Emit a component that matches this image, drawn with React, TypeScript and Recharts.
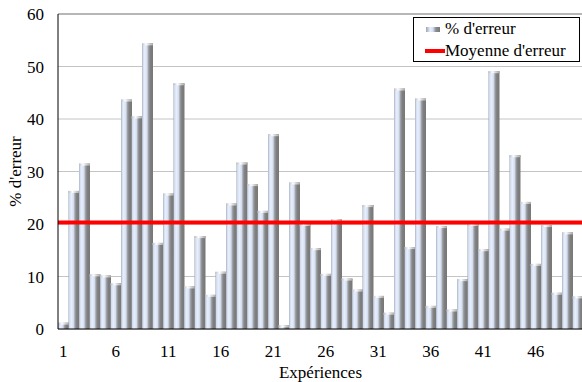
import React from 'react';
import {
  BarChart,
  Bar,
  XAxis,
  YAxis,
  CartesianGrid,
  ReferenceLine,
  Legend,
} from 'recharts';

// error rate (%) for each experiment
const errorRates = [
  1.2, 26.3, 31.5, 10.4, 10.2, 8.7, 43.7, 40.5, 54.4, 16.4,
  25.8, 46.8, 8.1, 17.7, 6.5, 10.9, 23.9, 31.7, 27.6, 22.5,
  37.1, 0.7, 27.9, 20.0, 15.4, 10.5, 20.9, 9.6, 7.5, 23.6,
  6.3, 3.1, 45.8, 15.6, 43.9, 4.4, 19.6, 3.7, 9.5, 20.0,
  15.2, 49.1, 19.1, 33.1, 24.2, 12.4, 19.8, 6.9, 18.4, 6.2,
];

const experiments = errorRates.map((_, i) => String(i + 1));

const meanError = 20.3;

const yTicks = [0, 10, 20, 30, 40, 50, 60];

const data = experiments.map((exp, i) => ({ exp, erreur: errorRates[i] }));

const FONT = "'Liberation Serif', 'Times New Roman', serif";
const FS = 17;

// cylinder-looking bar: light blue highlight on the left, grey on the right
const CylinderBar = (props: any) => {
  const { x, y, width, height } = props;
  if (!height || height <= 0) return null;
  return (
    <g>
      <rect x={x} y={y} width={width} height={height} fill="url(#barGrad)" />
      <rect x={x} y={y} width={width} height={Math.min(2, height)} fill="url(#capGrad)" />
    </g>
  );
};

const YTitle = ({ viewBox }: any) => {
  const cx = viewBox.x + 15;
  const cy = viewBox.y + viewBox.height / 2;
  return (
    <text
      x={cx}
      y={cy}
      transform={`rotate(-90 ${cx} ${cy})`}
      textAnchor="middle"
      dominantBaseline="central"
      style={{ fontFamily: FONT }}
      fontSize={FS}
      fill="#000"
    >
      % d'erreur
    </text>
  );
};

const XTitle = ({ viewBox }: any) => (
  <text
    x={viewBox.x + viewBox.width / 2}
    y={viewBox.y + 43}
    textAnchor="middle"
    dominantBaseline="central"
    style={{ fontFamily: FONT }}
    fontSize={FS}
    fill="#000"
  >
    Expériences
  </text>
);

const LegendBox = () => (
  <div
    style={{
      boxSizing: 'border-box',
      width: 167,
      height: 45,
      border: '1px solid #000',
      background: '#fff',
      fontFamily: FONT,
      fontSize: FS,
      color: '#000',
      lineHeight: '22px',
      paddingLeft: 11,
    }}
  >
    <div style={{ display: 'flex', alignItems: 'center', height: 22 }}>
      <span
        style={{
          display: 'inline-block',
          width: 14,
          height: 5,
          marginLeft: 1,
          marginRight: 5,
          background:
            'linear-gradient(to right, #9ea4ae 0%, #e8effc 30%, #d6e0f2 50%, #8a8c90 70%, #7a7a7a 100%)',
        }}
      />
      <span>% d'erreur</span>
    </div>
    <div style={{ display: 'flex', alignItems: 'center', height: 22 }}>
      <span
        style={{
          display: 'inline-block',
          width: 20,
          height: 4,
          background: '#ff0000',
        }}
      />
      <span>Moyenne d'erreur</span>
    </div>
  </div>
);

const tickStyle = { fontFamily: FONT, fontSize: FS, fill: '#000' };

const App: React.FC = () => {
  return (
    <div
      style={{
        position: 'absolute',
        left: 0,
        top: 0,
        width: 582,
        height: 382,
        overflow: 'hidden',
        background: '#fff',
        fontFamily: FONT,
      }}
    >
      <BarChart
        width={590}
        height={382}
        data={data}
        margin={{ top: 14, right: 7, left: 0, bottom: 0 }}
        barCategoryGap={0}
        style={{ fontFamily: FONT }}
      >
        <defs>
          <linearGradient id="barGrad" x1="0" y1="0" x2="1" y2="0">
            <stop offset="0%" stopColor="#9ea4ae" />
            <stop offset="8%" stopColor="#d0daee" />
            <stop offset="25%" stopColor="#e8effc" />
            <stop offset="45%" stopColor="#d6e0f2" />
            <stop offset="60%" stopColor="#9a9da3" />
            <stop offset="75%" stopColor="#7f7f7f" />
            <stop offset="100%" stopColor="#777777" />
          </linearGradient>
          <linearGradient id="capGrad" x1="0" y1="0" x2="1" y2="0">
            <stop offset="0%" stopColor="#b8bcc4" />
            <stop offset="35%" stopColor="#ffffff" />
            <stop offset="100%" stopColor="#a8a8a8" />
          </linearGradient>
        </defs>
        <CartesianGrid vertical={false} stroke="#c4c4c4" />
        <XAxis
          dataKey="exp"
          interval={4}
          tickLine={false}
          tickSize={6}
          tickMargin={10}
          axisLine={{ stroke: '#000' }}
          height={53}
          tick={tickStyle}
          label={<XTitle />}
        />
        <YAxis
          domain={[0, 60]}
          ticks={yTicks}
          width={58}
          tickLine={false}
          tickSize={6}
          tickMargin={8}
          axisLine={{ stroke: '#000' }}
          tick={tickStyle}
          label={<YTitle />}
        />
        <ReferenceLine y={60} stroke="#8c8c8c" />
        <Bar
          dataKey="erreur"
          name="% d'erreur"
          shape={<CylinderBar />}
          isAnimationActive={false}
        />
        <ReferenceLine y={meanError} stroke="#ff0000" strokeWidth={4} />
        <Legend
          layout="vertical"
          align="center"
          verticalAlign="middle"
          content={<LegendBox />}
          wrapperStyle={{ top: 17, left: 413, width: 167, height: 45 }}
        />
      </BarChart>
    </div>
  );
};

export default App;
